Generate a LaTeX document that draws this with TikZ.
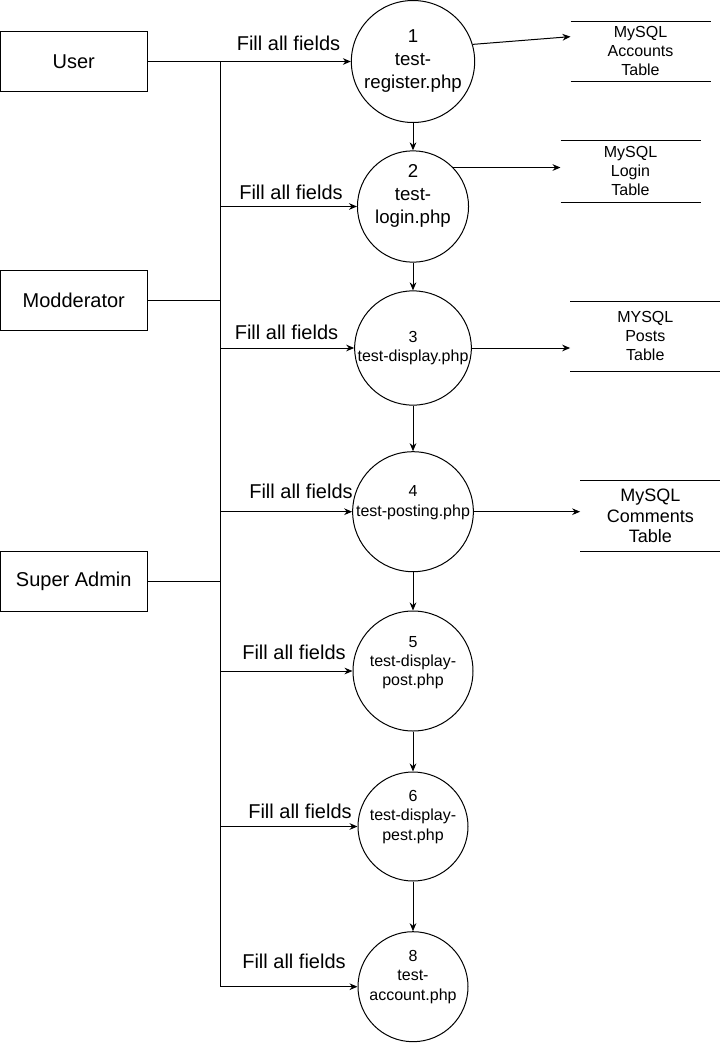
\documentclass[tikz,border=0pt]{standalone}
\usepackage{fontspec}
\setmainfont{Liberation Sans}
\usetikzlibrary{shapes.geometric,arrows.meta}

\tikzset{
  actor/.style={draw,minimum width=110pt,minimum height=45pt,inner sep=0pt,font=\fontsize{15}{18}\selectfont},
  proc/.style={draw,ellipse,inner sep=0pt},
  bigtxt/.style={font=\fontsize{14}{17.25}\selectfont,align=center},
  smalltxt/.style={font=\fontsize{12}{14.5}\selectfont,align=center},
  dbtable/.style={inner sep=0pt,align=center,font=\fontsize{12}{14.3}\selectfont},
  fieldlbl/.style={font=\fontsize{15}{18}\selectfont}
}

\begin{document}
\begin{tikzpicture}[x=0.75pt,y=-0.75pt,line width=0.75pt,>={Stealth[length=6pt,width=5pt]}]
\useasboundingbox (0,0) rectangle (722,1043);

\node[actor](user) at (73.75,61.5) {User};
\node[actor](mod) at (73.75,300.2) {Modderator};
\node[actor](sadm) at (73.75,581) {Super Admin};

\node[proc,minimum width=92.5pt,minimum height=91.5pt,label={[bigtxt]center:1\\test-\\register.php}](1) at (413,61.5) {};
\node[proc,minimum width=83.3pt,minimum height=83.5pt,label={[bigtxt,yshift=7.9pt]center:2\\test-\\login.php}](2) at (413,206.5) {};
\node[proc,minimum width=87.5pt,minimum height=85.7pt,label={[smalltxt]center:3\\test-display.php}](3) at (413,348) {};
\node[proc,minimum width=90.5pt,minimum height=90pt,label={[smalltxt,yshift=6.9pt]center:4\\test-posting.php}](4) at (413,511.7) {};
\node[proc,minimum width=90pt,minimum height=90pt,label={[smalltxt,yshift=6.2pt]center:5\\test-display-\\post.php}](5) at (413,671) {};
\node[proc,minimum width=82.5pt,minimum height=81.75pt,label={[smalltxt,yshift=7.1pt]center:6\\test-display-\\pest.php}](6) at (413,826.5) {};
\node[proc,minimum width=82.5pt,minimum height=82.5pt,label={[smalltxt,yshift=7.3pt]center:8\\test-\\account.php}](8) at (413,986.7) {};

\node[dbtable,minimum width=104.25pt,minimum height=44.5pt](acc) at (640.5,51.3) {MySQL\\Accounts\\Table};
\node[dbtable,minimum width=104.25pt,minimum height=45.5pt](login) at (630.5,171.3) {MySQL\\Login\\Table};
\node[dbtable,minimum width=112pt,minimum height=51.75pt](posts) at (645.3,336.2) {MYSQL\\Posts\\Table};
\node[dbtable,minimum width=104.5pt,minimum height=52.7pt,font=\fontsize{13.5}{15.5}\selectfont](cmt) at (650.3,515.9) {MySQL\\Comments\\Table};
\foreach \t in {acc,login,posts,cmt}
  \draw (\t.north west) -- (\t.north east) (\t.south west) -- (\t.south east);

\coordinate (b1) at (220.5,61.5);
\draw[->] (user) -- (1);
\draw (b1) -- (8 -| b1);
\draw (mod) -- (mod -| b1);
\draw (sadm) -- (sadm -| b1);
\foreach \n in {2,3,4,5,6,8}
  \draw[->] (\n -| b1) -- (\n);

\foreach \a/\b in {1/2,2/3,3/4,4/5,5/6,6/8}
  \draw[->] (\a) -- (\b);

\draw[->] (1.16) -- ([yshift=11pt]acc.west);
\draw[->] (2.44) -- (2.44 -| login.west);
\draw[->] (3) -- (3 -| posts.west);
\draw[->] (4) -- (4 -| cmt.west);

\foreach \n/\x/\y in {1/288.5/43,2/291/192,3/286.5/332.7,4/301/491.7,5/294/652,6/300/811.7,8/294/961.7}
  \node[fieldlbl](f\n) at (\x,\y) {Fill all fields};

\end{tikzpicture}
\end{document}
